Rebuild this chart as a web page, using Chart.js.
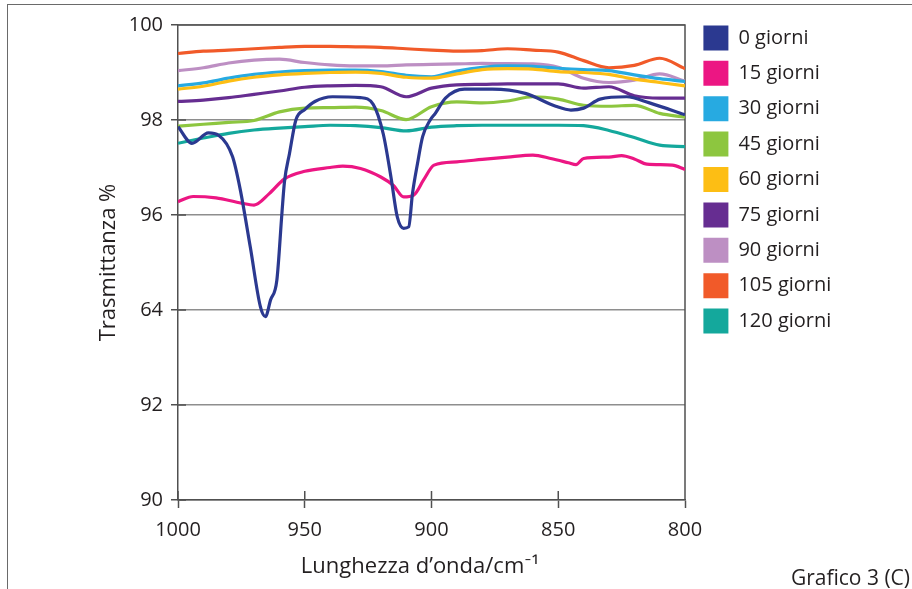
<!DOCTYPE html>
<html lang="it">
  <head>
    <meta charset="UTF-8" />
    <title>Grafico 3 (C)</title>
    <style>
      * {
        margin: 0;
        padding: 0;
        box-sizing: border-box;
      }
      body {
        width: 912px;
        height: 589px;
        overflow: hidden;
        position: relative;
        background: #fff;
        font-family: "Open Sans", sans-serif;
      }
      .frame {
        position: absolute;
        left: 7px;
        top: 4px;
        width: 940px;
        height: 620px;
        border-left: 1.5px solid #6a6a6a;
        border-top: 1.5px solid #6a6a6a;
      }
      canvas {
        position: absolute;
        left: 0;
        top: 0;
      }
      .caption {
        position: absolute;
        right: 2px;
        top: 564px;
        font-size: 21px;
        line-height: 26px;
        color: #231f20;
      }
    </style>
  </head>
  <body>
    <div class="frame"></div>
    <canvas id="chart" width="912" height="589"></canvas>
    <div class="caption">Grafico 3 (C)</div>

    <script src="https://cdn.jsdelivr.net/npm/chart.js"></script>
    <script>
      // wavenumbers (cm-1) shared by the smoother series
      const waves = [1000, 990, 980, 970, 960, 950, 940, 930, 920, 910, 900,
        890, 880, 870, 860, 850, 840, 830, 820, 810, 800];

      // 0 giorni has its own, denser sampling (two deep bands)
      const waves0 = [1000, 994.5, 988, 984, 978.5, 975.5, 971.5, 967.5, 965.5, 963.5, 961,
        959, 958, 956, 953.5, 950, 946, 939, 928, 923, 919, 916, 913.5, 911, 909, 907.5,
        905.5, 903.5, 900.5, 898.5, 894.5, 887, 876, 863, 851, 845, 840, 833.5, 823, 814, 800];
      const t0 = [97.86, 97.51, 97.73, 97.68, 97.23, 96.55, 95.33, 94.07, 93.86, 94.21, 94.63,
        96.04, 96.7, 97.3, 98.0, 98.22, 98.39, 98.49, 98.47, 98.33, 97.7, 96.8, 95.96, 95.72, 95.75, 96.45,
        97.09, 97.65, 98.0, 98.14, 98.46, 98.65, 98.65, 98.56, 98.29, 98.21, 98.25, 98.44, 98.49, 98.36, 98.11];

      const waves15 = [1000, 994, 985, 975, 970, 964, 958, 950, 940, 935, 928, 920, 915, 911, 907, 903,
        899, 890, 880, 870, 860, 853, 846, 843, 840, 830, 825, 820, 815, 805, 800];
      const t15 = [96.28, 96.39, 96.36, 96.25, 96.21, 96.45, 96.76, 96.92, 97.0, 97.03, 96.98, 96.8, 96.62, 96.38, 96.42, 96.75,
        97.05, 97.12, 97.17, 97.22, 97.26, 97.19, 97.1, 97.06, 97.19, 97.22, 97.25, 97.18, 97.07, 97.05, 96.96];

      const t30 = [98.72, 98.78, 98.88, 98.96, 99.01, 99.04, 99.05, 99.05, 99.02, 98.94, 98.91,
        99.03, 99.11, 99.14, 99.13, 99.09, 99.06, 99.04, 98.95, 98.87, 98.81];
      const t45 = [97.87, 97.91, 97.95, 97.99, 98.17, 98.25, 98.26, 98.27, 98.20, 98.01, 98.28,
        98.38, 98.36, 98.40, 98.49, 98.44, 98.31, 98.29, 98.31, 98.14, 98.06];
      const t60 = [98.65, 98.71, 98.82, 98.90, 98.95, 98.98, 99.00, 99.01, 98.98, 98.90, 98.88,
        98.97, 99.06, 99.08, 99.07, 99.02, 99.00, 98.96, 98.86, 98.79, 98.72];
      const t75 = [98.39, 98.42, 98.47, 98.54, 98.61, 98.69, 98.72, 98.73, 98.70, 98.49, 98.67,
        98.74, 98.75, 98.76, 98.76, 98.76, 98.67, 98.70, 98.51, 98.46, 98.46];
      const t90 = [99.04, 99.10, 99.20, 99.26, 99.28, 99.21, 99.16, 99.14, 99.14, 99.16, 99.17,
        99.18, 99.19, 99.19, 99.18, 99.11, 98.88, 98.79, 98.84, 98.97, 98.82];
      const t105 = [99.40, 99.45, 99.47, 99.50, 99.53, 99.55, 99.55, 99.54, 99.53, 99.50, 99.47,
        99.45, 99.46, 99.50, 99.47, 99.43, 99.25, 99.10, 99.15, 99.30, 99.08];
      const t120 = [97.51, 97.62, 97.72, 97.79, 97.83, 97.86, 97.89, 97.88, 97.84, 97.77, 97.85,
        97.88, 97.89, 97.89, 97.89, 97.89, 97.88, 97.78, 97.63, 97.47, 97.44];

      const seriesNames = ["0 giorni", "15 giorni", "30 giorni", "45 giorni", "60 giorni",
        "75 giorni", "90 giorni", "105 giorni", "120 giorni"];
      const seriesColors = ["#2b3990", "#ec1683", "#27aae1", "#8dc63f", "#fdbe14",
        "#662d91", "#bd8fc3", "#f15a29", "#14a89c"];

      const xTicks = [1000, 950, 900, 850, 800];
      const yTickValues = [90, 92, 94, 96, 98, 100];
      const yTickLabels = ["90", "92", "64", "96", "98", "100"];

      const ink = "#231f20";
      const axisInk = "#505050";
      const gridInk = "#8e8e8e";
      const fontFamily = "'Open Sans', Lato, sans-serif";

      const pairs = (xs, ys) => xs.map((v, i) => ({ x: v, y: ys[i] }));
      const seriesData = [
        pairs(waves0, t0), pairs(waves15, t15), pairs(waves, t30), pairs(waves, t45),
        pairs(waves, t60), pairs(waves, t75), pairs(waves, t90), pairs(waves, t105), pairs(waves, t120),
      ];

      Chart.defaults.font.family = fontFamily;
      Chart.defaults.color = ink;

      // plot should end at x=685; the legend sits right of it, so size the right padding from the labels
      const legendPad = 10.4;
      const legendGap = 8;
      const measure = document.createElement("canvas").getContext("2d");
      measure.font = "20px " + fontFamily;
      const widestLabel = Math.max(...seriesNames.map((n) => measure.measureText(n).width));
      const legendWidth = legendPad + 25 + 10 + widestLabel + 10;
      const padRight = 912 - 685 - legendWidth;

      // plot frame: right border, darker top line, tick stubs inside the axes
      const frame = {
        id: "frame",
        afterLayout(chart) {
          // small gap between plot border and legend boxes
          chart.legend.left += legendGap;
          chart.legend.right += legendGap;
        },
        beforeDatasetsDraw(chart) {
          const { ctx, chartArea: a, scales } = chart;
          ctx.save();
          ctx.strokeStyle = axisInk;
          ctx.lineWidth = 1.5;
          ctx.beginPath();
          ctx.moveTo(a.left, a.top);
          ctx.lineTo(a.right, a.top);
          ctx.lineTo(a.right, a.bottom);
          xTicks.forEach((v) => {
            const px = scales.x.getPixelForValue(v);
            ctx.moveTo(px, a.bottom);
            ctx.lineTo(px, a.bottom - 9);
          });
          yTickValues.forEach((v) => {
            const py = scales.y.getPixelForValue(v);
            ctx.moveTo(a.left, py);
            ctx.lineTo(a.left + 8, py);
          });
          ctx.stroke();
          ctx.restore();
        },
      };

      const chart = new Chart(document.getElementById("chart"), {
        type: "line",
        data: {
          datasets: seriesNames.map((name, i) => ({
            label: name,
            data: seriesData[i],
            borderColor: seriesColors[i],
            backgroundColor: seriesColors[i],
            borderWidth: 3.2,
            pointRadius: 0,
            cubicInterpolationMode: "monotone",
            xAxisID: "x",
            yAxisID: "y",
            order: i === 4 ? 1.5 : i,
          })),
        },
        options: {
          responsive: false,
          animation: false,
          layout: { padding: { left: 92, right: padRight, top: 15, bottom: 9 } },
          scales: {
            x: {
              type: "linear",
              position: "bottom",
              min: 800,
              max: 1000,
              reverse: true,
              afterFit: (s) => { s.height = 80; },
              afterBuildTicks: (s) => { s.ticks = xTicks.map((v) => ({ value: v })); },
              ticks: {
                padding: 10,
                maxRotation: 0,
                color: ink,
                font: { size: 20 },
                callback: (v) => String(v),
              },
              grid: { drawOnChartArea: false, tickLength: 8, tickColor: axisInk, tickWidth: 1.5 },
              border: { color: axisInk, width: 1.5 },
              title: {
                display: true,
                text: "Lunghezza d’onda/cm⁻¹\u00a0\u00a0\u00a0\u00a0",
                color: ink,
                font: { size: 22 },
                padding: { top: 0, bottom: 0 },
              },
            },
            y: {
              type: "linear",
              position: "left",
              min: 90,
              max: 100,
              afterFit: (s) => { s.width = 86; },
              afterBuildTicks: (s) => { s.ticks = yTickValues.map((v) => ({ value: v })); },
              ticks: {
                padding: 8,
                color: ink,
                font: { size: 20 },
                callback: (v) => yTickLabels[yTickValues.indexOf(v)],
              },
              grid: { color: gridInk, lineWidth: 1.5, tickLength: 7, tickColor: axisInk, tickWidth: 1.5 },
              border: { color: axisInk, width: 1.5 },
              title: {
                display: true,
                text: "Trasmittanza %",
                color: ink,
                font: { size: 22 },
                padding: { top: 4, bottom: 0 },
              },
            },
            xTop: {
              type: "linear",
              position: "top",
              axis: "x",
              grid: { display: false },
              ticks: { display: false },
              border: { display: false },
              afterFit: (s) => { s.height = 10; },
            },
          },
          plugins: {
            legend: {
              position: "right",
              align: "start",
              labels: {
                boxWidth: 25,
                boxHeight: 25,
                padding: legendPad,
                color: ink,
                font: { size: 20 },
                sort: (a, b) => a.datasetIndex - b.datasetIndex,
                generateLabels: (c) =>
                  Chart.defaults.plugins.legend.labels.generateLabels(c).map((l) => Object.assign(l, { lineWidth: 0 })),
              },
            },
            tooltip: { enabled: false },
          },
        },
        plugins: [frame],
      });
    </script>
  </body>
</html>
